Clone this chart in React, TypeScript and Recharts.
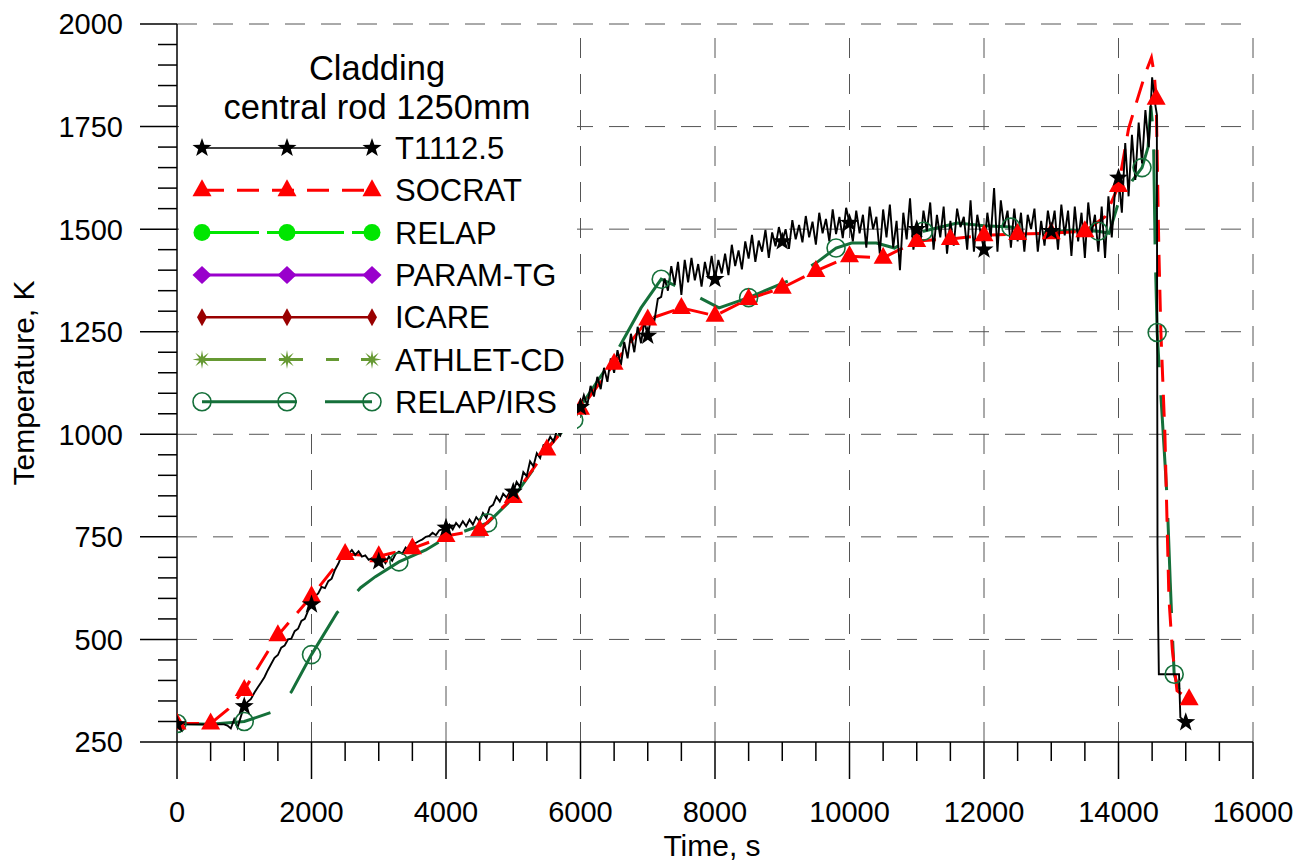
import React from 'react';
import { LineChart, Line, XAxis, YAxis, ReferenceLine, Legend, Label } from 'recharts';

// ---------- data ----------
// T1112.5 measured temperature, sampled every 50 s from 0 s to 14550 s
const EXP_STEP = 50;
const expValues: number[] = [
  293, 293, 293, 293, 293, 293, 293, 293, 293, 293, 293, 293, 293, 293, 293, 290, 283, 305, 285, 312,
  337, 348, 355, 370, 383, 395, 408, 425, 440, 455, 462, 480, 485, 500, 502, 520, 526, 545, 550, 570,
  585, 605, 612, 628, 625, 642, 648, 670, 685, 705, 716, 708, 718, 706, 715, 702, 705, 694, 698, 686,
  690, 698, 686, 702, 692, 708, 714, 709, 724, 716, 732, 735, 740, 744, 750, 752, 760, 754, 766, 768,
  772, 780, 768, 784, 774, 788, 776, 792, 780, 798, 788, 808, 796, 822, 828, 848, 836, 855, 846, 860,
  860, 884, 872, 908, 898, 934, 922, 954, 942, 974, 976, 994, 982, 1010, 998, 1030, 1016, 1045, 1044, 1058,
  1066, 1095, 1070, 1118, 1092, 1140, 1110, 1162, 1128, 1185, 1150, 1205, 1168, 1225, 1185, 1245, 1200, 1262, 1222, 1275,
  1240, 1285, 1278, 1330, 1335, 1380, 1350, 1410, 1365, 1420, 1340, 1425, 1370, 1430, 1375, 1415, 1360, 1420, 1380, 1435,
  1378, 1425, 1392, 1440, 1388, 1462, 1410, 1448, 1402, 1470, 1428, 1486, 1420, 1472, 1445, 1498, 1430, 1492, 1458, 1505,
  1470, 1500, 1452, 1522, 1475, 1510, 1468, 1532, 1480, 1518, 1462, 1540, 1490, 1525, 1470, 1548, 1488, 1530, 1478, 1552,
  1515, 1470, 1545, 1490, 1535, 1455, 1555, 1500, 1530, 1440, 1548, 1480, 1560, 1455, 1520, 1400, 1540, 1475, 1575, 1450,
  1500, 1460, 1545, 1495, 1565, 1450, 1535, 1480, 1555, 1440, 1520, 1460, 1550, 1505, 1530, 1450, 1570, 1445, 1535, 1490,
  1450, 1540, 1480, 1600, 1445, 1570, 1505, 1545, 1455, 1550, 1470, 1540, 1445, 1535, 1500, 1550, 1445, 1520, 1460, 1545,
  1495, 1545, 1450, 1560, 1485, 1545, 1435, 1555, 1470, 1540, 1430, 1565, 1490, 1535, 1445, 1555, 1430, 1580, 1480, 1600,
  1625, 1540, 1710, 1580, 1730, 1620, 1760, 1660, 1790, 1700, 1870, 1800,
];
// quench part of T1112.5 [time, K]
const expTail: [number, number][] = [
  [14570, 1780], [14580, 730], [14590, 540], [14600, 415], [14900, 415], [14920, 310], [15000, 298],
];
const EXP_MARK_EVERY = 1000;

// SOCRAT [time, K, marker]
const socrat: [number, number, number][] = [
  [0, 295, 1], [500, 295, 1], [760, 330, 0], [1000, 377, 1], [1500, 510, 1], [2000, 605, 1],
  [2500, 708, 1], [3000, 703, 1], [3500, 722, 1], [4000, 752, 1], [4500, 767, 1], [5000, 847, 1],
  [5500, 963, 1], [6000, 1062, 1], [6500, 1172, 1], [7000, 1280, 1], [7500, 1308, 1], [8000, 1289, 1],
  [8500, 1330, 1], [9000, 1357, 1], [9500, 1398, 1], [10000, 1434, 1], [10500, 1430, 1], [11000, 1471, 1],
  [11500, 1476, 1], [12000, 1485, 1], [12500, 1488, 1], [13000, 1490, 1], [13500, 1495, 1], [13800, 1530, 0],
  [14000, 1605, 1], [14150, 1745, 0], [14250, 1800, 0], [14400, 1880, 0], [14490, 1918, 0], [14530, 1880, 0],
  [14560, 1818, 1], [14600, 1450, 0], [14630, 1250, 0], [14690, 1000, 0], [14720, 800, 0], [14750, 600, 0],
  [14800, 476, 0], [14870, 375, 0], [15050, 354, 1],
];

// RELAP/IRS [time, K, marker]
const relapIrs: [number, number, number][] = [
  [0, 295, 1], [500, 293, 0], [1000, 300, 1], [1400, 322, 0], [1700, 372, 0], [2000, 463, 1],
  [2380, 565, 0], [2730, 626, 0], [2950, 653, 0], [3300, 689, 1], [3700, 718, 0], [4000, 748, 0],
  [4620, 784, 1], [5000, 845, 0], [5600, 985, 0], [5900, 1035, 1], [6000, 1068, 0], [6500, 1190, 0],
  [6900, 1308, 0], [7200, 1378, 1], [7550, 1352, 0], [8060, 1308, 0], [8500, 1333, 1], [9090, 1374, 0],
  [9540, 1422, 0], [9800, 1454, 1], [10030, 1466, 0], [10400, 1466, 0], [10670, 1454, 0], [11100, 1495, 1],
  [11600, 1515, 0], [12000, 1508, 0], [12400, 1505, 1], [12800, 1490, 0], [13300, 1498, 0], [13700, 1495, 1],
  [13860, 1490, 0], [14000, 1565, 0], [14200, 1617, 0], [14350, 1650, 1], [14440, 1700, 0], [14480, 1800, 0],
  [14520, 1730, 0], [14545, 1447, 0], [14575, 1248, 1], [14605, 1163, 0], [14680, 961, 0], [14724, 840, 0],
  [14770, 638, 0], [14800, 517, 0], [14828, 415, 1], [14900, 378, 0],
];

// axes
const xMajor = [0, 2000, 4000, 6000, 8000, 10000, 12000, 14000, 16000];
const yMajor = [250, 500, 750, 1000, 1250, 1500, 1750, 2000];
const X_MINOR = 500;
const Y_MINOR = 50;

const legendTitle = ['Cladding', 'central rod 1250mm'];
const legendItems = [
  { name: 'T1112.5', color: '#000000', shape: 'star', width: 1.5, dash: undefined as string | undefined },
  { name: 'SOCRAT', color: '#ff0000', shape: 'tri', width: 3, dash: '22 13' },
  { name: 'RELAP', color: '#00e600', shape: 'dot', width: 3, dash: '57 8 12 8' },
  { name: 'PARAM-TG', color: '#9900cc', shape: 'diamond', width: 3, dash: undefined },
  { name: 'ICARE', color: '#990000', shape: 'thin', width: 2.5, dash: undefined },
  { name: 'ATHLET-CD', color: '#669933', shape: 'ast', width: 3, dash: '64 13 24 23 13 22' },
  { name: 'RELAP/IRS', color: '#15703a', shape: 'ring', width: 3, dash: '95 28' },
];

// ---------- derived tables ----------
const expData = [
  ...expValues.map((v, i) => ({ t: i * EXP_STEP, v })),
  ...expTail.map(([t, v]) => ({ t, v })),
];
const socratData = socrat.map(([t, v, m]) => ({ t, v, m }));
const relapIrsData = relapIrs.map(([t, v, m]) => ({ t, v, m }));

const xTicks: number[] = [];
for (let t = xMajor[0]; t <= xMajor[xMajor.length - 1]; t += X_MINOR) xTicks.push(t);
const yTicks: number[] = [];
for (let v = yMajor[0]; v <= yMajor[yMajor.length - 1]; v += Y_MINOR) yTicks.push(v);

const FONT = '"Liberation Sans", Arial, Helvetica, sans-serif';
const RED = '#ff0000';
const IRS = '#15703a';

// ---------- markers ----------
const polyPts = (cx: number, cy: number, R: number, r: number, n: number) => {
  const pts: string[] = [];
  for (let k = 0; k < 2 * n; k++) {
    const a = -Math.PI / 2 + (k * Math.PI) / n;
    const rr = k % 2 === 0 ? R : r;
    pts.push(`${cx + rr * Math.cos(a)},${cy + rr * Math.sin(a)}`);
  }
  return pts.join(' ');
};

function Marker({ shape, cx, cy, color }: { shape: string; cx: number; cy: number; color: string }) {
  switch (shape) {
    case 'star':
      return <polygon points={polyPts(cx, cy, 10, 4, 5)} fill={color} />;
    case 'tri':
      return <polygon points={`${cx},${cy - 11} ${cx + 9.5},${cy + 6} ${cx - 9.5},${cy + 6}`} fill={color} />;
    case 'dot':
      return <circle cx={cx} cy={cy} r={8.5} fill={color} />;
    case 'diamond':
      return <polygon points={`${cx},${cy - 9} ${cx + 9.5},${cy} ${cx},${cy + 9} ${cx - 9.5},${cy}`} fill={color} />;
    case 'thin':
      return <polygon points={`${cx},${cy - 9} ${cx + 5},${cy} ${cx},${cy + 9} ${cx - 5},${cy}`} fill={color} />;
    case 'ast':
      return <polygon points={polyPts(cx, cy, 9.5, 3, 8)} fill={color} />;
    case 'ring':
      return <circle cx={cx} cy={cy} r={9} fill="none" stroke={color} strokeWidth={1.6} />;
    default:
      return null;
  }
}

const makeDot = (shape: string, color: string, show: (p: any) => boolean) => (props: any) => {
  const { cx, cy, payload, index } = props;
  if (cx == null || cy == null || !show(payload)) return <g key={`d${index}`} />;
  return (
    <g key={`d${index}`}>
      <Marker shape={shape} cx={cx} cy={cy} color={color} />
    </g>
  );
};

// ---------- axis ticks ----------
const XTick = (props: any) => {
  const { x, y, payload } = props;
  const major = xMajor.includes(payload.value);
  return (
    <g>
      <line x1={x} x2={x} y1={y} y2={y + (major ? 37 : 19)} stroke="#000" strokeWidth={1.5} />
      {major && (
        <text x={x} y={y + 80} textAnchor="middle" fontSize={29} fill="#000" fontFamily={FONT}>
          {payload.value}
        </text>
      )}
    </g>
  );
};

const YTick = (props: any) => {
  const { x, y, payload } = props;
  const major = yMajor.includes(payload.value);
  return (
    <g>
      <line x1={x - (major ? 37 : 19)} x2={x} y1={y} y2={y} stroke="#000" strokeWidth={1.5} />
      {major && (
        <text x={x - 54} y={y} dy="0.36em" textAnchor="end" fontSize={29} fill="#000" fontFamily={FONT}>
          {payload.value}
        </text>
      )}
    </g>
  );
};

// ---------- legend ----------
const LEG_W = 398;
const LEG_H = 405;
const LegendBox = () => (
  <svg width={LEG_W} height={LEG_H} style={{ display: 'block', background: '#fff' }} fontFamily={FONT}>
    <text x={198} y={52} textAnchor="middle" fontSize={34.5} fill="#000">{legendTitle[0]}</text>
    <text x={198} y={91} textAnchor="middle" fontSize={34.5} fill="#000">{legendTitle[1]}</text>
    {legendItems.map((it, i) => {
      const y = 120 + i * 42.3;
      return (
        <g key={it.name}>
          <line x1={23} x2={193} y1={y} y2={y} stroke={it.color} strokeWidth={it.width} strokeDasharray={it.dash} />
          {[23, 108, 193].map((cx) => (
            <Marker key={cx} shape={it.shape} cx={cx} cy={y} color={it.color} />
          ))}
          <text x={216} y={y} dy="0.36em" fontSize={31} fill="#000">{it.name}</text>
        </g>
      );
    })}
  </svg>
);

const YLabel = (props: any) => {
  const vb = props.viewBox || { x: 0, y: 0, width: 0, height: 0 };
  const x = vb.x + 26;
  const y = vb.y + vb.height / 2;
  return (
    <text x={x} y={y} transform={`rotate(-90, ${x}, ${y})`} textAnchor="middle" fontSize={30} fill="#000" fontFamily={FONT}>
      Temperature, K
    </text>
  );
};

const XLabel = (props: any) => {
  const vb = props.viewBox || { x: 0, y: 0, width: 0, height: 0 };
  return (
    <text x={vb.x + vb.width / 2 - 3} y={vb.y + 114} textAnchor="middle" fontSize={30} fill="#000" fontFamily={FONT}>
      Time, s
    </text>
  );
};

export default function App() {
  return (
    <div style={{ width: 1300, height: 853, fontFamily: FONT }}>
      <LineChart width={1300} height={853} margin={{ top: 16, right: 55, bottom: 0, left: 0 }}>
        <XAxis
          dataKey="t"
          type="number"
          domain={[xMajor[0], xMajor[xMajor.length - 1]]}
          ticks={xTicks}
          interval={0}
          allowDataOverflow
          height={119}
          tickSize={0}
          tickMargin={0}
          tickLine={false}
          axisLine={{ stroke: '#000', strokeWidth: 1.5 }}
          tick={<XTick />}
        >
          <Label content={<XLabel />} />
        </XAxis>
        <YAxis
          type="number"
          domain={[yMajor[0], yMajor[yMajor.length - 1]]}
          ticks={yTicks}
          interval={0}
          allowDataOverflow
          width={169}
          tickSize={0}
          tickMargin={0}
          tickLine={false}
          axisLine={{ stroke: '#000', strokeWidth: 1.5 }}
          tick={<YTick />}
        >
          <Label content={<YLabel />} />
        </YAxis>
        {yMajor.slice(1).map((v) => (
          <ReferenceLine key={`gy${v}`} y={v} stroke="#555" strokeWidth={1} strokeDasharray="20 16" />
        ))}
        {xMajor.slice(1).map((v) => (
          <ReferenceLine key={`gx${v}`} x={v} stroke="#555" strokeWidth={1} strokeDasharray="20 16" />
        ))}
        <Line
          data={relapIrsData}
          dataKey="v"
          type="linear"
          stroke={IRS}
          strokeWidth={3}
          strokeDasharray="95 28"
          dot={makeDot('ring', IRS, (p) => !!p.m)}
          activeDot={false}
          isAnimationActive={false}
        />
        <Line
          data={socratData}
          dataKey="v"
          type="linear"
          stroke={RED}
          strokeWidth={3}
          strokeDasharray="22 13"
          dot={makeDot('tri', RED, (p) => !!p.m)}
          activeDot={false}
          isAnimationActive={false}
        />
        <Line
          data={expData}
          dataKey="v"
          type="linear"
          stroke="#000"
          strokeWidth={1.9}
          dot={makeDot('star', '#000', (p) => p.t % EXP_MARK_EVERY === 0)}
          activeDot={false}
          isAnimationActive={false}
        />
        <Legend
          layout="vertical"
          align="center"
          verticalAlign="middle"
          content={() => <LegendBox />}
          wrapperStyle={{ left: 171, top: 20, width: LEG_W, height: LEG_H, background: '#fff' }}
        />
      </LineChart>
    </div>
  );
}
